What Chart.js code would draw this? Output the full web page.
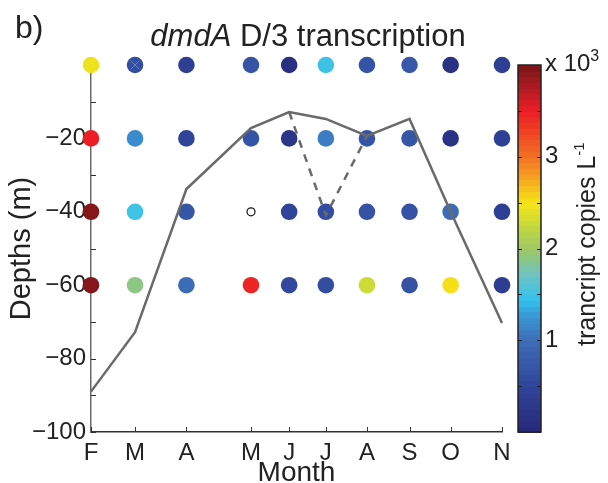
<!DOCTYPE html>
<html>
<head>
<meta charset="utf-8">
<script src="https://cdn.jsdelivr.net/npm/chart.js@4.4.1/dist/chart.umd.min.js"></script>
<style>
  body { margin: 0; background: #fff; }
  #wrap { width: 608px; height: 483px; }
</style>
</head>
<body>
<div id="wrap"><canvas id="depthChart"></canvas></div>
<script>
// sampling months, placed by approx. day since start of series
const months   = ['F', 'M', 'A', 'M', 'J', 'J', 'A', 'S', 'O', 'N'];
const monthDay = [0, 30, 65, 109, 135, 160, 188, 217, 245, 280];
const depths   = [0, -20, -40, -60];

// transcript copies L-1 (x 10^3), one array per depth, null = no sample
const copies0  = [2.45, 0.62, 0.40, 0.70, 0.15, 1.50, 0.70, 0.75, 0.18, 0.40];
const copies20 = [3.50, 1.20, 0.50, 0.70, 0.25, 1.10, 0.70, 0.72, 0.22, 0.42];
const copies40 = [3.95, 1.50, 0.72, null, 0.50, 0.62, 0.68, 0.68, 1.00, 0.42];
const copies60 = [3.95, 1.90, 1.00, 3.45, 0.55, 0.62, 2.30, 0.68, 2.52, 0.38];

// mixed layer depth (m)
const mldSolid  = [-89, -72.8, -33.8, -17.2, -12.8, -14.7, -19.3, -14.7, -40, -70.3];
const mldDashIx = [4, 5, 6];
const mldDash   = [-12.8, -41, -19.3];

const cbTicks = [0, 0.5, 1, 1.5, 2, 2.5, 3, 3.5, 4];

const FONT = '"Liberation Sans", Arial, Helvetica, sans-serif';

// jet-like palette as printed in the figure
const stops = [
  [0.0, '#262878'], [0.5, '#30449a'], [1.0, '#3d6cb6'], [1.25, '#3a94d4'],
  [1.45, '#32c2ee'], [1.7, '#6cc2c4'], [2.0, '#9dc866'], [2.25, '#c4d83c'],
  [2.5, '#f7e417'], [2.75, '#f7a81e'], [3.0, '#f27322'], [3.25, '#ef4623'],
  [3.5, '#ec1d24'], [3.75, '#b01c22'], [4.0, '#7a1417']
];
function hex2rgb(h) {
  return [parseInt(h.substr(1,2),16), parseInt(h.substr(3,2),16), parseInt(h.substr(5,2),16)];
}
function jet(v) {
  v = Math.max(0, Math.min(4, v));
  for (let i = 1; i < stops.length; i++) {
    if (v <= stops[i][0]) {
      const a = hex2rgb(stops[i-1][1]), b = hex2rgb(stops[i][1]);
      const t = (v - stops[i-1][0]) / (stops[i][0] - stops[i-1][0]);
      return 'rgb(' + a.map((c, k) => Math.round(c + (b[k]-c)*t)).join(',') + ')';
    }
  }
  return stops[stops.length-1][1];
}

const rows = [copies0, copies20, copies40, copies60];
const samples = [];
const missing = [];
rows.forEach((row, r) => {
  row.forEach((v, i) => {
    if (v == null) missing.push({x: monthDay[i], y: depths[r]});
    else samples.push({x: monthDay[i], y: depths[r], v: v});
  });
});

function drawRich(ctx, parts, x, y, align) {
  let w = 0;
  parts.forEach(p => { ctx.font = p.font; p.w = ctx.measureText(p.text).width; w += p.w; });
  let cx = align === 'center' ? x - w / 2 : x;
  ctx.textAlign = 'left';
  ctx.textBaseline = 'alphabetic';
  parts.forEach(p => { ctx.font = p.font; ctx.fillText(p.text, cx, y + (p.dy || 0)); cx += p.w; });
}

const decor = {
  id: 'decor',
  beforeDatasetsDraw(chart) {
    const {ctx, scales: {x, y}} = chart;
    ctx.save();
    ctx.strokeStyle = '#333';
    ctx.lineWidth = 1;
    ctx.beginPath();
    x.ticks.forEach(t => {
      const px = Math.round(x.getPixelForValue(t.value)) + 0.5;
      ctx.moveTo(px, y.bottom); ctx.lineTo(px, y.bottom - 5);
    });
    y.ticks.forEach(t => {
      const py = Math.round(y.getPixelForValue(t.value)) + 0.5;
      ctx.moveTo(x.left, py); ctx.lineTo(x.left + 5, py);
    });
    ctx.stroke();
    ctx.restore();
  },
  afterDraw(chart) {
    const {ctx, chartArea, scales: {cb}} = chart;
    ctx.save();
    // colour bar
    const left = chartArea.right + 16, w = 23;
    const n = 64;
    for (let k = 0; k < n; k++) {
      const v0 = 4 * k / n, v1 = 4 * (k + 1) / n;
      const y0 = cb.getPixelForValue(v1), y1 = cb.getPixelForValue(v0);
      ctx.fillStyle = jet((v0 + v1) / 2);
      ctx.fillRect(left, Math.floor(y0), w, Math.ceil(y1 - y0) + 1);
    }
    ctx.strokeStyle = '#222';
    ctx.lineWidth = 1.5;
    ctx.strokeRect(left, cb.getPixelForValue(4), w, cb.getPixelForValue(0) - cb.getPixelForValue(4));
    ctx.lineWidth = 1;
    ctx.beginPath();
    cbTicks.slice(1, -1).forEach(v => {
      const py = Math.round(cb.getPixelForValue(v)) + 0.5;
      ctx.moveTo(left, py); ctx.lineTo(left + 4, py);
      ctx.moveTo(left + w, py); ctx.lineTo(left + w - 4, py);
    });
    ctx.stroke();

    ctx.fillStyle = '#222';
    drawRich(ctx, [
      {text: 'x 10', font: '24px ' + FONT},
      {text: '3', font: '16px ' + FONT, dy: -10}
    ], left + w + 4, 71, 'left');

    ctx.save();
    ctx.translate(595, 346);
    ctx.rotate(-Math.PI / 2);
    drawRich(ctx, [
      {text: 'trancript copies L', font: '25px ' + FONT},
      {text: '-1', font: '15px ' + FONT, dy: -11}
    ], 0, 0, 'left');
    ctx.restore();

    // panel label and title
    drawRich(ctx, [{text: 'b)', font: '32px ' + FONT}], 15, 38, 'left');
    drawRich(ctx, [
      {text: 'dmdA', font: 'italic 31px ' + FONT},
      {text: ' D/3 transcription', font: '31px ' + FONT}
    ], 308, 46, 'center');
    ctx.restore();
  }
};

new Chart(document.getElementById('depthChart'), {
  type: 'scatter',
  data: {
    datasets: [
      {
        type: 'line',
        data: monthDay.map((d, i) => ({x: d, y: mldSolid[i]})),
        borderColor: '#6a6a6a',
        borderWidth: 2.5,
        pointRadius: 0,
        fill: false,
        clip: false
      },
      {
        type: 'line',
        data: mldDashIx.map((ix, i) => ({x: monthDay[ix], y: mldDash[i]})),
        borderColor: '#6a6a6a',
        borderWidth: 2.5,
        borderDash: [8, 7],
        pointRadius: 0,
        fill: false,
        clip: false
      },
      {
        data: [{x: monthDay[1], y: depths[0]}],
        pointStyle: 'crossRot',
        pointRadius: 6,
        borderColor: 'rgba(130,150,210,0.7)',
        borderWidth: 1,
        clip: false
      },
      {
        data: missing,
        pointRadius: 4,
        backgroundColor: '#fff',
        borderColor: '#111',
        borderWidth: 1.2,
        clip: false
      },
      {
        data: samples,
        pointRadius: 8.3,
        borderWidth: 0,
        backgroundColor: ctx => ctx.raw ? jet(ctx.raw.v) : '#000',
        clip: false
      }
    ]
  },
  options: {
    responsive: true,
    maintainAspectRatio: false,
    animation: false,
    events: [],
    layout: { padding: { top: 65, left: 0, right: 0, bottom: 0 } },
    plugins: { legend: { display: false }, tooltip: { enabled: false } },
    scales: {
      x: {
        type: 'linear',
        min: 0, max: 280,
        afterBuildTicks: s => { s.ticks = monthDay.map(v => ({value: v})); },
        afterFit: s => { s.height = 51; },
        ticks: {
          callback: (v, i) => months[i],
          autoSkip: false, maxRotation: 0,
          color: '#222', padding: 7,
          font: { family: FONT, size: 24 }
        },
        grid: { display: false, drawTicks: false },
        border: { color: '#333', width: 1.5 },
        title: {
          display: true, text: 'Month', color: '#222',
          font: { family: FONT, size: 28, lineHeight: 1 },
          padding: { top: 0, bottom: -4 }
        }
      },
      y: {
        type: 'linear',
        min: -100, max: 0,
        afterFit: s => { s.width = 91; s.paddingTop = 0; s.paddingBottom = 0; },
        ticks: {
          stepSize: 10,
          callback: v => (v % 20 === 0 && v !== 0) ? '\u2212' + Math.abs(v) : '',
          color: '#222', padding: 5,
          font: { family: FONT, size: 24 }
        },
        grid: { display: false, drawTicks: false },
        border: { color: '#6a6a6a', width: 1.5 },
        title: {
          display: true, text: 'Depths (m)', color: '#222',
          font: { family: FONT, size: 29 },
          padding: { top: 5, bottom: 0 }
        }
      },
      cb: {
        type: 'linear',
        position: 'right',
        min: 0, max: 4,
        afterBuildTicks: s => { s.ticks = cbTicks.map(v => ({value: v})); },
        afterFit: s => { s.width = 106; s.paddingTop = 0; s.paddingBottom = 0; },
        ticks: {
          callback: v => (Number.isInteger(v) && v > 0 && v < 4) ? String(v) : '',
          color: '#222', padding: 43,
          font: { family: FONT, size: 24 }
        },
        grid: { display: false, drawTicks: false },
        border: { display: false }
      }
    }
  },
  plugins: [decor]
});
</script>
</body>
</html>
